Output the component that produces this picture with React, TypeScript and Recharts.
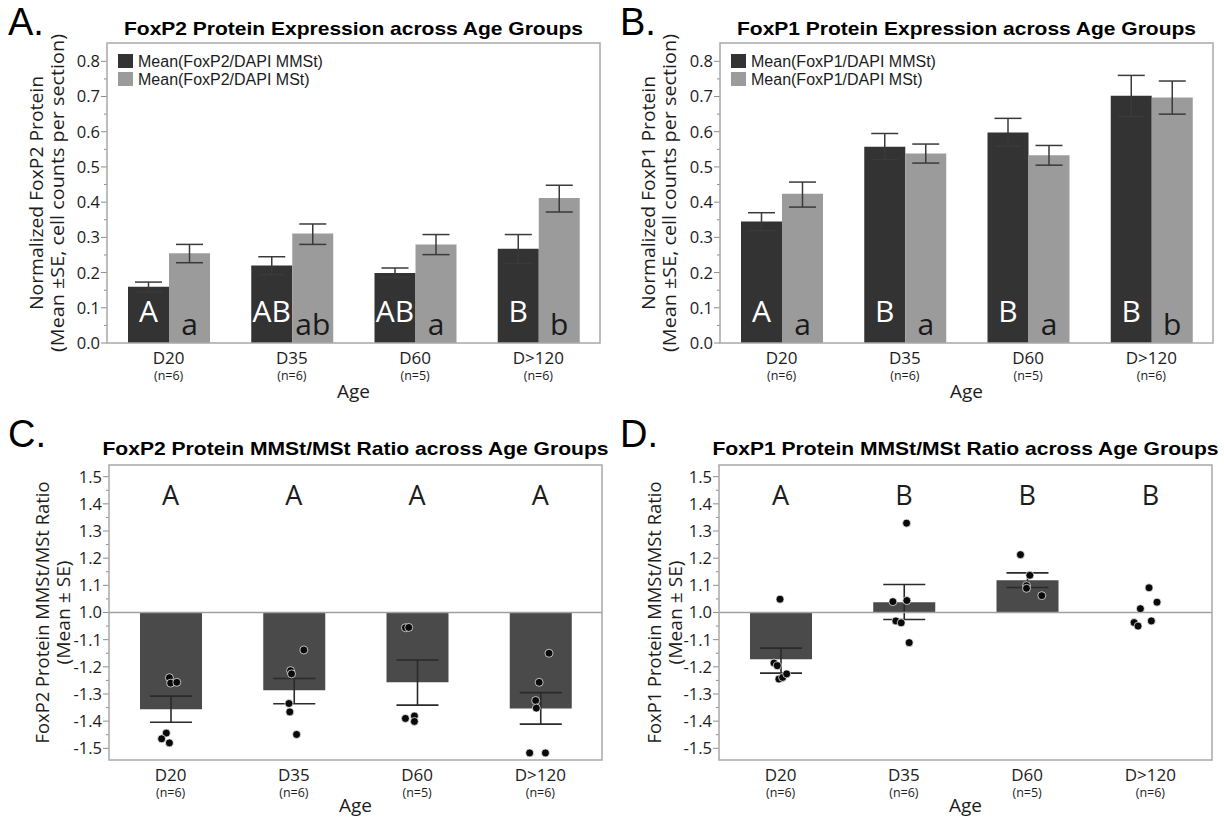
import React from 'react';
import { ComposedChart, Bar, ErrorBar, XAxis, YAxis, Scatter, ReferenceLine, LabelList } from 'recharts';

const ages = ['D20', 'D35', 'D60', 'D>120'];
const groupSizes = ['(n=6)', '(n=6)', '(n=5)', '(n=6)'];

// A. FoxP2 / DAPI, mean with SE bounds
const foxp2MMSt = [0.16, 0.22, 0.199, 0.268];
const foxp2MMStLow = [0.144, 0.194, 0.186, 0.226];
const foxp2MMStHigh = [0.173, 0.245, 0.213, 0.308];
const foxp2MSt = [0.255, 0.311, 0.28, 0.412];
const foxp2MStLow = [0.228, 0.28, 0.251, 0.372];
const foxp2MStHigh = [0.28, 0.338, 0.308, 0.448];
const foxp2MMStLetters = ['A', 'AB', 'AB', 'B'];
const foxp2MStLetters = ['a', 'ab', 'a', 'b'];

// B. FoxP1 / DAPI
const foxp1MMSt = [0.345, 0.557, 0.598, 0.702];
const foxp1MMStLow = [0.319, 0.521, 0.559, 0.643];
const foxp1MMStHigh = [0.37, 0.595, 0.638, 0.76];
const foxp1MSt = [0.424, 0.538, 0.533, 0.697];
const foxp1MStLow = [0.386, 0.511, 0.505, 0.65];
const foxp1MStHigh = [0.457, 0.565, 0.561, 0.744];
const foxp1MMStLetters = ['A', 'B', 'B', 'B'];
const foxp1MStLetters = ['a', 'a', 'a', 'b'];

// C. FoxP2 MMSt/MSt ratio (fold change scale)
const foxp2Ratio = [-1.356, -1.286, -1.257, -1.353];
const foxp2RatioHigh = [-1.308, -1.243, -1.175, -1.295];
const foxp2RatioLow = [-1.404, -1.336, -1.341, -1.411];
const foxp2RatioLetters = ['A', 'A', 'A', 'A'];
const foxp2RatioDots = [
  [-1.24, -1.26, -1.257, -1.444, -1.465, -1.48],
  [-1.138, -1.214, -1.226, -1.335, -1.366, -1.449],
  [-1.056, -1.055, -1.39, -1.381, -1.401],
  [-1.15, -1.257, -1.324, -1.352, -1.517, -1.517],
];
const foxp2RatioJitter = [
  [-0.01, 0, 0.05, -0.035, -0.073, -0.01],
  [0.081, -0.027, -0.019, -0.04, -0.033, 0.022],
  [-0.095, -0.068, -0.095, -0.022, -0.022],
  [0.07, -0.01, -0.038, -0.033, -0.087, 0.041],
];

// D. FoxP1 MMSt/MSt ratio
const foxp1Ratio = [-1.172, 1.038, 1.119, 1.0];
const foxp1RatioHigh = [-1.131, 1.103, 1.146, 1.024];
const foxp1RatioLow = [-1.223, -1.026, 1.092, -1.022];
const foxp1RatioLetters = ['A', 'B', 'B', 'B'];
const foxp1RatioDots = [
  [1.049, -1.186, -1.196, -1.245, -1.239, -1.226],
  [1.329, 1.04, 1.044, -1.031, -1.038, -1.111],
  [1.213, 1.137, 1.099, 1.089, 1.062],
  [1.091, 1.038, 1.014, -1.031, -1.037, -1.05],
];
const foxp1RatioJitter = [
  [-0.005, -0.054, -0.027, -0.014, 0.016, 0.049],
  [0.022, -0.089, 0.024, -0.065, -0.022, 0.043],
  [-0.054, 0.022, -0.005, -0.005, 0.119],
  [-0.011, 0.054, -0.081, 0.008, -0.132, -0.1],
];

const fractionTicks = [0, 0.1, 0.2, 0.3, 0.4, 0.5, 0.6, 0.7, 0.8];
const ratioTicks = [1.5, 1.4, 1.3, 1.2, 1.1, 1.0, -1.1, -1.2, -1.3, -1.4, -1.5];
const LETTER_LEVEL = 1.4;

const SANS = '"Open Sans", "Noto Sans", sans-serif';
const ARIAL = '"Liberation Sans", Arial, sans-serif';
const INK = '#1c1c1c';
const FRAME = '#a8a8a8';

// fold-change axis: 1.0 and -1.0 meet at zero
const toUnits = (v: number) => (v >= 1 ? (v - 1) * 10 : (v + 1) * 10);
const fromUnits = (u: number) => (u >= 0 ? 1 + u / 10 : -1 + u / 10);

const withMinors = (majors: number[]) => {
  const s = [...majors].sort((a, b) => a - b);
  const out: number[] = [];
  s.forEach((v, i) => {
    out.push(v);
    if (i < s.length - 1) out.push(Math.round(((v + s[i + 1]) / 2) * 1000) / 1000);
  });
  return out;
};

const YTick = ({ y, payload, plotLeft, majors, format }: any) => {
  const v = payload.value;
  const major = majors.some((m: number) => Math.abs(m - v) < 1e-6);
  return (
    <g>
      <line x1={plotLeft - (major ? 6 : 3)} x2={plotLeft} y1={y} y2={y} stroke="#8c8c8c" strokeWidth={1} />
      {major && (
        <text x={plotLeft - 7} y={y} dy="0.36em" textAnchor="end" fontFamily={SANS} fontSize={16.5} fill={INK}>
          {format(v)}
        </text>
      )}
    </g>
  );
};

const AgeTick = ({ x, payload, plotBottom }: any) => {
  const i = typeof payload.value === 'number' ? payload.value : ages.indexOf(payload.value);
  return (
    <g>
      <text x={x} y={plotBottom + 21} textAnchor="middle" fontFamily={SANS} fontSize={17} fill={INK}>
        {ages[i]}
      </text>
      <text x={x} y={plotBottom + 37} textAnchor="middle" fontFamily={SANS} fontSize={12.5} fill={INK}>
        {groupSizes[i]}
      </text>
    </g>
  );
};

const BarLetter = (color: string, lift: number) => (props: any) => {
  const vb = props.viewBox || {};
  const x = props.x ?? vb.x;
  const y = props.y ?? vb.y;
  const w = props.width ?? vb.width;
  const h = props.height ?? vb.height;
  return (
    <text x={x + w / 2} y={y + h - lift} textAnchor="middle" fontFamily={SANS} fontSize={30} fill={color}>
      {props.value}
    </text>
  );
};

function Frame(props: any) {
  const { tag, tagBase, title, titleWidth, titleBase, yLabels, labelX, labelLen, ageGap, box, legend } = props;
  const { left, right, top, bottom } = box;
  const midX = (left + right) / 2;
  const midY = (top + bottom) / 2;
  return (
    <svg width={612} height={410} style={{ position: 'absolute', left: 0, top: 0, pointerEvents: 'none', overflow: 'visible' }}>
      <text x={8} y={tagBase} fontFamily={ARIAL} fontSize={38} fill="#000">{tag}</text>
      <text x={midX} y={titleBase} textAnchor="middle" fontFamily={ARIAL} fontWeight="bold" fontSize={19}
        textLength={titleWidth} lengthAdjust="spacingAndGlyphs" fill="#000">{title}</text>
      <rect x={left} y={top} width={right - left} height={bottom - top} fill="none" stroke={FRAME} strokeWidth={1.5} />
      {yLabels.map((t: string, i: number) => (
        <text key={i} x={labelX[i]} y={midY} transform={`rotate(-90 ${labelX[i]} ${midY})`} textAnchor="middle"
          dominantBaseline="central" fontFamily={SANS} fontSize={18.5} textLength={labelLen[i]}
          lengthAdjust="spacingAndGlyphs" fill={INK}>{t}</text>
      ))}
      <text x={midX} y={bottom + ageGap} textAnchor="middle" fontFamily={SANS} fontSize={19} fill={INK}>Age</text>
      {legend &&
        legend.map((l: any, i: number) => (
          <g key={i}>
            <rect x={left + 11} y={top + 11 + i * 18} width={15} height={14} fill={l.color} />
            <text x={left + 31} y={top + 24 + i * 18} fontFamily={ARIAL} fontSize={16} fill={INK}>{l.name}</text>
          </g>
        ))}
    </svg>
  );
}

function ExpressionPanel(props: any) {
  const { tag, title, yLabels, legendNames, mmst, mmstLow, mmstHigh, mst, mstLow, mstHigh, mmstLetters, mstLetters, box } = props;
  const data = ages.map((age, i) => ({
    age,
    mmst: mmst[i],
    mmstErr: [mmst[i] - mmstLow[i], mmstHigh[i] - mmst[i]],
    mmstLetter: mmstLetters[i],
    mst: mst[i],
    mstErr: [mst[i] - mstLow[i], mstHigh[i] - mst[i]],
    mstLetter: mstLetters[i],
  }));
  const ticks = withMinors(fractionTicks);
  return (
    <div style={{ position: 'relative', width: 612, height: 410 }}>
      <ComposedChart width={612} height={410} data={data} barGap={0}
        margin={{ top: box.top, right: 612 - box.right, bottom: 0, left: 0 }}>
        <XAxis dataKey="age" type="category" height={410 - box.bottom} axisLine={false} tickLine={false} interval={0}
          tick={(p: any) => <AgeTick {...p} plotBottom={box.bottom} />} />
        <YAxis type="number" domain={[0, 0.852]} allowDataOverflow width={box.left} ticks={ticks} interval={0}
          axisLine={false} tickLine={false}
          tick={(p: any) => <YTick {...p} plotLeft={box.left} majors={fractionTicks} format={(v: number) => v.toFixed(1)} />} />
        <Bar dataKey="mmst" fill="#333333" barSize={41} isAnimationActive={false}>
          <ErrorBar dataKey="mmstErr" direction="y" width={13.5} stroke="#3a3a3a" strokeWidth={1.5} />
          <LabelList dataKey="mmstLetter" content={BarLetter('#ffffff', 21)} />
        </Bar>
        <Bar dataKey="mst" fill="#9b9b9b" barSize={41} isAnimationActive={false}>
          <ErrorBar dataKey="mstErr" direction="y" width={13.5} stroke="#3a3a3a" strokeWidth={1.5} />
          <LabelList dataKey="mstLetter" content={BarLetter('#1a1a1a', 8)} />
        </Bar>
      </ComposedChart>
      <Frame tag={tag} tagBase={35} title={title} titleWidth={459} titleBase={35} yLabels={yLabels}
        labelX={[35, 56]} labelLen={[234, 318]} ageGap={55} box={box}
        legend={[{ name: legendNames[0], color: '#333333' }, { name: legendNames[1], color: '#9b9b9b' }]} />
    </div>
  );
}

const Dot = (props: any) => (
  <circle cx={props.cx} cy={props.cy} r={4} fill="#0a0a0a" stroke="#ffffff" strokeWidth={0.7} />
);

const GroupLetter = (props: any) => (
  <text x={props.cx} y={props.cy + 1} textAnchor="middle" fontFamily={SANS} fontSize={27} fill={INK}>
    {props.payload.letter}
  </text>
);

function RatioPanel(props: any) {
  const { tag, title, yLabels, means, highs, lows, letters, dots, jitter, box } = props;
  const data = ages.map((age, i) => ({
    age,
    x: i,
    mean: toUnits(means[i]),
    err: [toUnits(means[i]) - toUnits(lows[i]), toUnits(highs[i]) - toUnits(means[i])],
  }));
  const points = dots.flatMap((g: number[], i: number) => g.map((v, j) => ({ x: i + jitter[i][j], y: toUnits(v) })));
  const letterPoints = letters.map((letter: string, i: number) => ({ x: i, y: toUnits(LETTER_LEVEL), letter }));
  const majors = ratioTicks.map(toUnits);
  const ticks = withMinors(majors);
  return (
    <div style={{ position: 'relative', width: 612, height: 410 }}>
      <ComposedChart width={612} height={410} data={data}
        margin={{ top: box.top, right: 612 - box.right, bottom: 0, left: 0 }}>
        <XAxis xAxisId="cat" dataKey="age" type="category" interval={0}
          height={410 - box.bottom} axisLine={false} tickLine={false}
          tick={(p: any) => <AgeTick {...p} plotBottom={box.bottom} />} />
        {/* numeric twin of the category axis, used for the jittered dots */}
        <XAxis xAxisId="num" dataKey="x" type="number" domain={[-0.5, 3.5]} allowDataOverflow hide />
        <YAxis type="number" domain={[-5.43, 5.43]} allowDataOverflow width={box.left} ticks={ticks} interval={0}
          axisLine={false} tickLine={false}
          tick={(p: any) => <YTick {...p} plotLeft={box.left} majors={majors} format={(u: number) => fromUnits(u).toFixed(1)} />} />
        <Bar xAxisId="cat" dataKey="mean" fill="#4a4a4a" barSize={62} isAnimationActive={false}>
          <ErrorBar dataKey="err" direction="y" width={21} stroke="#2a2a2a" strokeWidth={1.6} />
        </Bar>
        <ReferenceLine xAxisId="cat" y={0} stroke="#a0a0a0" strokeWidth={1.5} />
        <Scatter xAxisId="num" data={points} dataKey="y" shape={Dot} isAnimationActive={false} />
        <Scatter xAxisId="num" data={letterPoints} dataKey="y" shape={GroupLetter} isAnimationActive={false} />
      </ComposedChart>
      <Frame tag={tag} tagBase={37} title={title} titleWidth={506} titleBase={45} yLabels={yLabels}
        labelX={[41, 62]} labelLen={[262, 104]} ageGap={52} box={box} />
    </div>
  );
}

export default function App() {
  return (
    <div style={{ position: 'absolute', left: 0, top: 0, width: 1224, height: 819, background: '#fff', overflow: 'hidden' }}>
      <div style={{ position: 'absolute', left: 0, top: 0 }}>
        <ExpressionPanel tag="A." title="FoxP2 Protein Expression across Age Groups"
          yLabels={['Normalized FoxP2 Protein', '(Mean ±SE, cell counts per section)']}
          legendNames={['Mean(FoxP2/DAPI MMSt)', 'Mean(FoxP2/DAPI MSt)']}
          mmst={foxp2MMSt} mmstLow={foxp2MMStLow} mmstHigh={foxp2MMStHigh}
          mst={foxp2MSt} mstLow={foxp2MStLow} mstHigh={foxp2MStHigh}
          mmstLetters={foxp2MMStLetters} mstLetters={foxp2MStLetters}
          box={{ left: 107, right: 600, top: 43, bottom: 343 }} />
      </div>
      <div style={{ position: 'absolute', left: 612, top: 0 }}>
        <ExpressionPanel tag="B." title="FoxP1 Protein Expression across Age Groups"
          yLabels={['Normalized FoxP1 Protein', '(Mean ±SE, cell counts per section)']}
          legendNames={['Mean(FoxP1/DAPI MMSt)', 'Mean(FoxP1/DAPI MSt)']}
          mmst={foxp1MMSt} mmstLow={foxp1MMStLow} mmstHigh={foxp1MMStHigh}
          mst={foxp1MSt} mstLow={foxp1MStLow} mstHigh={foxp1MStHigh}
          mmstLetters={foxp1MMStLetters} mstLetters={foxp1MStLetters}
          box={{ left: 108, right: 601, top: 43, bottom: 343 }} />
      </div>
      <div style={{ position: 'absolute', left: 0, top: 410 }}>
        <RatioPanel tag="C." title="FoxP2 Protein MMSt/MSt Ratio across Age Groups"
          yLabels={['FoxP2 Protein MMSt/MSt Ratio', '(Mean ± SE)']}
          means={foxp2Ratio} highs={foxp2RatioHigh} lows={foxp2RatioLow} letters={foxp2RatioLetters}
          dots={foxp2RatioDots} jitter={foxp2RatioJitter}
          box={{ left: 109, right: 602, top: 55, bottom: 350 }} />
      </div>
      <div style={{ position: 'absolute', left: 612, top: 410 }}>
        <RatioPanel tag="D." title="FoxP1 Protein MMSt/MSt Ratio across Age Groups"
          yLabels={['FoxP1 Protein MMSt/MSt Ratio', '(Mean ± SE)']}
          means={foxp1Ratio} highs={foxp1RatioHigh} lows={foxp1RatioLow} letters={foxp1RatioLetters}
          dots={foxp1RatioDots} jitter={foxp1RatioJitter}
          box={{ left: 107, right: 600, top: 55, bottom: 350 }} />
      </div>
    </div>
  );
}
